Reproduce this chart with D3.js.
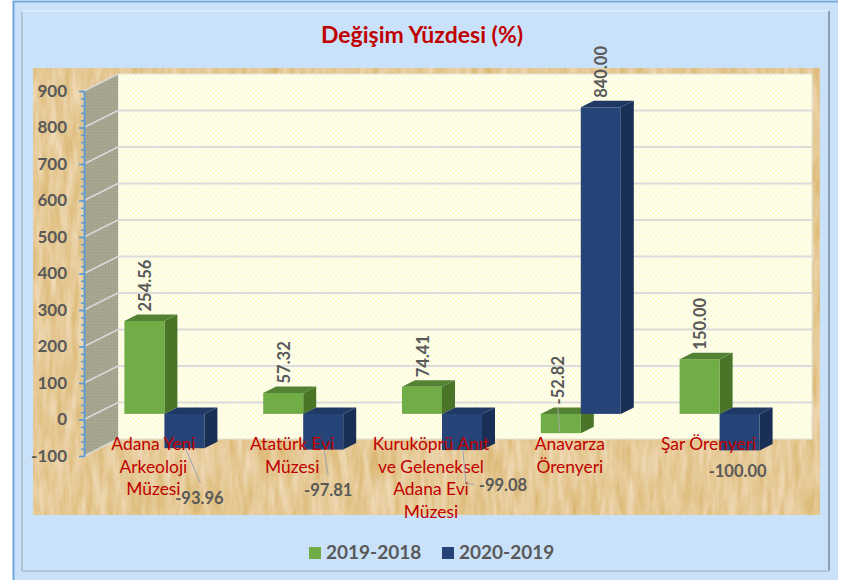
<!DOCTYPE html>
<html>
<head>
<meta charset="utf-8">
<script src="https://cdn.jsdelivr.net/npm/d3@7"></script>
<style>
  html, body { margin: 0; padding: 0; background: #fff; }
  svg { display: block; }
  text { font-family: Lato, "Open Sans", sans-serif; }
  .num { font-weight: 700; fill: #595959; font-size: 16.5px; }
</style>
</head>
<body>
<div id="chart"></div>
<script>
var categories = [
  ["Adana Yeni", "Arkeoloji", "Müzesi"],
  ["Atatürk Evi", "Müzesi"],
  ["Kuruköprü Anıt", "ve Geleneksel", "Adana Evi", "Müzesi"],
  ["Anavarza", "Örenyeri"],
  ["Şar Örenyeri"]
];
var seriesNames = ["2019-2018", "2020-2019"];
var values2019 = [254.56, 57.32, 74.41, -52.82, 150.00];
var values2020 = [-93.96, -97.81, -99.08, 840.00, -100.00];
var axisTicks = [-100, 0, 100, 200, 300, 400, 500, 600, 700, 800, 900];

var width = 850, height = 581;
var depth = {x: 34, y: -17};       // floor/wall depth of the 3d box
var barPlane = {x: 11, y: -5.6};   // bars stand a bit behind the front edge
var barDepth = {x: 13, y: -6.5};
var barWidth = 40;

var colors = {
  "2019-2018": {front: "#70ad47", side: "#4a7529", top: "#548235"},
  "2020-2019": {front: "#264478", side: "#1a2f55", top: "#1f3864"}
};

var svg = d3.select("#chart").append("svg")
  .attr("width", width)
  .attr("height", height);

var defs = svg.append("defs");

// papyrus texture behind the plot
var papyrus = defs.append("filter").attr("id", "papyrus")
  .attr("x", 0).attr("y", 0).attr("width", "100%").attr("height", "100%")
  .attr("color-interpolation-filters", "sRGB");
papyrus.append("feTurbulence")
  .attr("type", "fractalNoise")
  .attr("baseFrequency", "0.14 0.025")
  .attr("numOctaves", 4)
  .attr("seed", 7)
  .attr("result", "noise");
papyrus.append("feColorMatrix")
  .attr("type", "matrix")
  .attr("values", "0.12 0 0 0 0.84  0.2 0 0 0 0.69  0.4 0 0 0 0.39  0 0 0 0 1");

// yellow dots of the back wall
var dots = defs.append("pattern").attr("id", "dots")
  .attr("width", 5).attr("height", 5).attr("patternUnits", "userSpaceOnUse");
dots.append("rect").attr("width", 5).attr("height", 5).attr("fill", "#fefef2");
dots.append("rect").attr("width", 2).attr("height", 2).attr("fill", "#fcfcc6");
dots.append("rect").attr("x", 2.5).attr("y", 2.5).attr("width", 2).attr("height", 2).attr("fill", "#fcfcc6");

var hatch = defs.append("pattern").attr("id", "hatch")
  .attr("width", 3).attr("height", 3).attr("patternUnits", "userSpaceOnUse");
hatch.append("rect").attr("width", 3).attr("height", 3).attr("fill", "#a8a890");
hatch.append("rect").attr("width", 1.5).attr("height", 1.5).attr("fill", "#9c9c8e");

// outer panel
svg.append("rect").attr("x", 13).attr("y", 1).attr("width", 825).attr("height", 579)
  .attr("fill", "#c9e2f9");
svg.append("path").attr("d", "M13.5,580V1.5H838").attr("fill", "none")
  .attr("stroke", "#6fa8dc").attr("stroke-width", 2);
svg.append("path").attr("d", "M22,571V11").attr("fill", "none")
  .attr("stroke", "#a9b8c6").attr("stroke-width", 1.5);
svg.append("path").attr("d", "M22,11H829").attr("fill", "none")
  .attr("stroke", "#dcecfb").attr("stroke-width", 1.5);
svg.append("path").attr("d", "M829,11V571").attr("fill", "none")
  .attr("stroke", "#66727e").attr("stroke-width", 1.2);
svg.append("path").attr("d", "M22,571H829").attr("fill", "none")
  .attr("stroke", "#b3c6d9").attr("stroke-width", 2);

// plot background
svg.append("rect").attr("x", 33).attr("y", 68).attr("width", 787).attr("height", 447)
  .attr("filter", "url(#papyrus)");

var y = d3.scaleLinear().domain([-100, 900]).range([456, 91]);
var x0 = d3.scaleBand().domain(d3.range(categories.length)).range([84, 778]);
var x1 = d3.scaleBand().domain(seriesNames)
  .range([(x0.bandwidth() - barWidth * 2) / 2, (x0.bandwidth() + barWidth * 2) / 2]);

// back wall
svg.append("rect")
  .attr("x", x0.range()[0] + depth.x)
  .attr("y", y(900) + depth.y)
  .attr("width", x0.range()[1] - x0.range()[0])
  .attr("height", y(-100) - y(900))
  .attr("fill", "url(#dots)")
  .attr("stroke", "#e3e3d8");

// side wall
svg.append("path")
  .attr("d", "M84," + y(900) + "L" + (84 + depth.x) + "," + (y(900) + depth.y) +
    "V" + (y(-100) + depth.y) + "L84," + y(-100) + "Z")
  .attr("fill", "url(#hatch)");

// grid lines on both walls
svg.append("g").selectAll("line").data(axisTicks.slice(1, -1))
  .enter().append("line")
  .attr("x1", 84 + depth.x).attr("x2", 778 + depth.x)
  .attr("y1", function(d) { return y(d) + depth.y; })
  .attr("y2", function(d) { return y(d) + depth.y; })
  .attr("stroke", "#dcdcdc").attr("stroke-width", 2);
svg.append("g").selectAll("line").data(axisTicks)
  .enter().append("line")
  .attr("x1", 84).attr("x2", 84 + depth.x)
  .attr("y1", function(d) { return y(d); })
  .attr("y2", function(d) { return y(d) + depth.y; })
  .attr("stroke", "#d9d9d9").attr("stroke-width", 1.5);

// axis
var minorTicks = d3.range(-100, 901, 20);
svg.append("g").attr("transform", "translate(84,0)")
  .call(d3.axisLeft(y).tickValues(minorTicks).tickSize(3).tickSizeOuter(0).tickFormat(""));
var majorAxis = svg.append("g").attr("transform", "translate(84,0)")
  .call(d3.axisLeft(y).tickValues(axisTicks).tickSize(5).tickSizeOuter(0).tickPadding(12)
    .tickFormat(function(d) { return String(d); }));
svg.selectAll(".domain, .tick line").attr("stroke", "#5b9bd5").attr("stroke-width", 1.5);
majorAxis.selectAll("text")
  .attr("font-family", "Lato")
  .style("font-size", "17px").style("font-weight", 700).attr("fill", "#595959");

// bars
function barX(i, name) { return x0(i) + x1(name) + barPlane.x; }
function barY(v) { return y(v) + barPlane.y; }

function drawBar(g, i, name, v) {
  var c = colors[name];
  var xa = barX(i, name), xb = xa + barWidth;
  var ya = barY(Math.max(v, 0)), yb = barY(Math.min(v, 0));
  g.append("path")
    .attr("d", "M" + xb + "," + ya + "l" + barDepth.x + "," + barDepth.y +
      "V" + (yb + barDepth.y) + "L" + xb + "," + yb + "Z")
    .attr("fill", c.side);
  g.append("path")
    .attr("d", "M" + xa + "," + ya + "l" + barDepth.x + "," + barDepth.y +
      "h" + barWidth + "L" + xb + "," + ya + "Z")
    .attr("fill", c.top);
  g.append("rect")
    .attr("x", xa).attr("y", ya)
    .attr("width", barWidth).attr("height", yb - ya)
    .attr("fill", c.front);
}

var bars = svg.append("g");
categories.forEach(function(d, i) {
  drawBar(bars, i, seriesNames[0], values2019[i]);
  drawBar(bars, i, seriesNames[1], values2020[i]);
});

// category labels
var catLabels = svg.append("g").selectAll("text").data(categories).enter().append("text")
  .attr("text-anchor", "middle")
  .attr("fill", "#c00000")
  .style("font-size", "17.4px");
catLabels.each(function(lines, i) {
  d3.select(this).selectAll("tspan").data(lines).enter().append("tspan")
    .attr("x", x0(i) + x0.bandwidth() / 2)
    .attr("y", function(d, j) { return 450 + j * 22.7; })
    .text(function(d) { return d; });
});

// rotated labels above the bars
var rotated = [];
values2019.forEach(function(v, i) { rotated.push({i: i, name: seriesNames[0], v: v, nudge: i == 3 ? -3 : 1}); });
values2020.forEach(function(v, i) { if (v > 0) rotated.push({i: i, name: seriesNames[1], v: v, nudge: 0}); });

svg.append("g").selectAll("text").data(rotated).enter().append("text")
  .attr("class", "num")
  .attr("dy", "0.35em")
  .attr("transform", function(d) {
    var px = barX(d.i, d.name) + barWidth / 2 + d.nudge;
    var py = barY(Math.max(d.v, 0)) + barDepth.y - 3;
    return "translate(" + px + "," + py + ") rotate(-90)";
  })
  .text(function(d) { return d.v.toFixed(2); });

// negative blue labels were dragged away in the original, some with a leader line
var belowNudge = [
  {dx: 15, dy: 50, leader: [[1, 0], [16, 35]]},
  {dx: 5, dy: 41, leader: [[1, 1], [5, 26]]},
  {dx: 41, dy: 35, leader: [[1, 1], [4, 34], [12, 34]]},
  null,
  {dx: -2, dy: 21, leader: null}
];
var below = [];
values2020.forEach(function(v, i) { if (v < 0) below.push({i: i, v: v, nudge: belowNudge[i]}); });

var leaderLine = d3.line();
svg.append("g").selectAll("path").data(below.filter(function(d) { return d.nudge.leader; }))
  .enter().append("path")
  .attr("fill", "none")
  .attr("stroke", "#9aa4ad").attr("stroke-width", 1)
  .attr("d", function(d) {
    var cx = barX(d.i, seriesNames[1]) + barWidth / 2, cy = barY(d.v);
    return leaderLine(d.nudge.leader.map(function(p) { return [cx + p[0], cy + p[1]]; }));
  });

svg.append("g").selectAll("text").data(below).enter().append("text")
  .attr("class", "num")
  .attr("text-anchor", "middle")
  .attr("dy", "0.35em")
  .attr("x", function(d) { return barX(d.i, seriesNames[1]) + barWidth / 2 + d.nudge.dx; })
  .attr("y", function(d) { return barY(d.v) + d.nudge.dy; })
  .text(function(d) { return d.v.toFixed(2); });

// leader of the negative green bar
svg.append("line")
  .attr("x1", barX(3, seriesNames[0]) + 17).attr("y1", barY(0) + barDepth.y)
  .attr("x2", barX(3, seriesNames[0]) + 19).attr("y2", barY(values2019[3]))
  .attr("stroke", "#a6a6a6").attr("stroke-width", 1);

// title
svg.append("text")
  .attr("x", 422).attr("y", 43)
  .attr("text-anchor", "middle")
  .attr("fill", "#c00000")
  .style("font-size", "23px").style("font-weight", 700)
  .text("Değişim Yüzdesi (%)");

// legend
var legendX = d3.scaleOrdinal().domain(seriesNames).range([309, 442]);
var legend = svg.append("g").selectAll("g").data(seriesNames).enter().append("g")
  .attr("transform", function(d) { return "translate(" + legendX(d) + ",547)"; });
legend.append("rect").attr("width", 12).attr("height", 12)
  .attr("fill", function(d) { return colors[d].front; });
legend.append("text")
  .attr("x", 17).attr("y", 12)
  .attr("fill", "#595959")
  .style("font-size", "19px").style("font-weight", 700)
  .text(function(d) { return d; });
</script>
</body>
</html>
